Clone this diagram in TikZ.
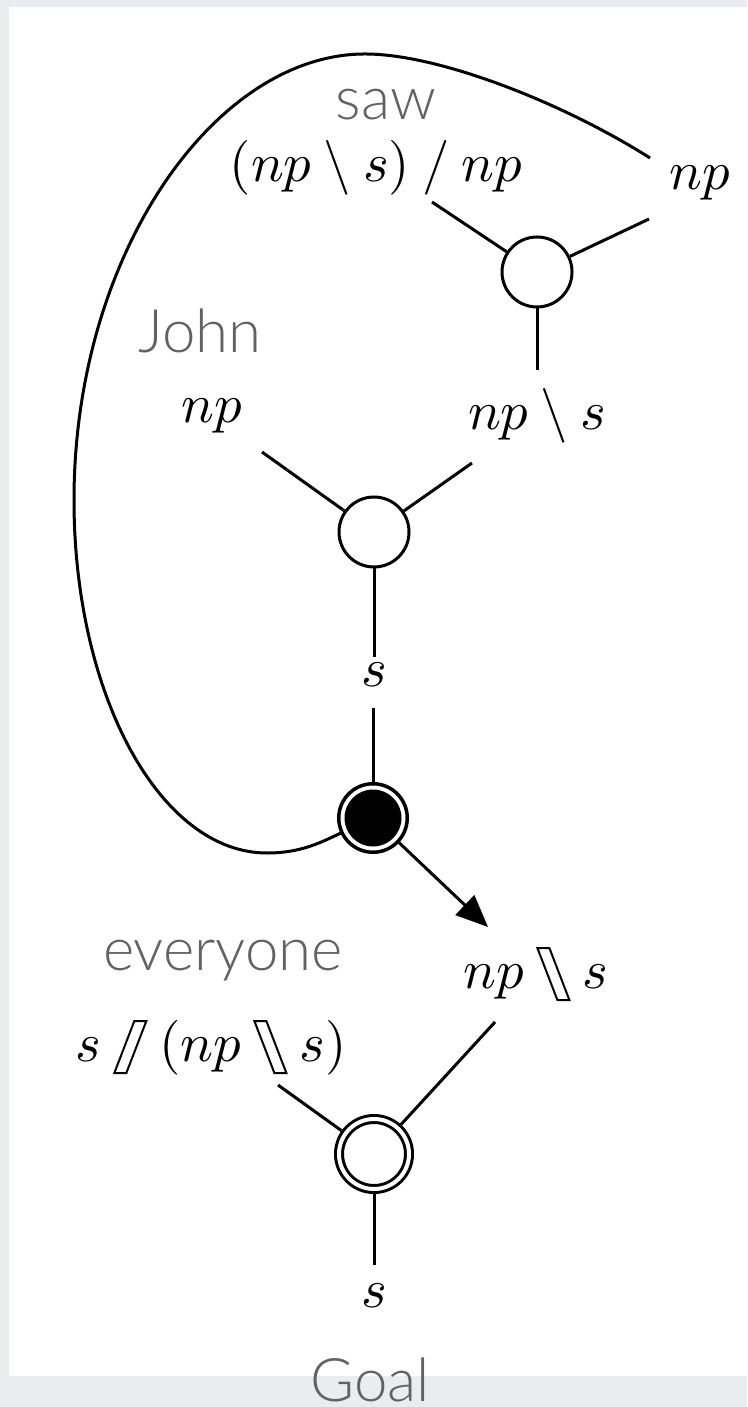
\documentclass[tikz,border=0pt]{standalone}
\usepackage{fontspec}
\usetikzlibrary{arrows.meta}
\IfFontExistsTF{Lato Light}{\newfontfamily\labfont{Lato Light}}{\newfontfamily\labfont{Lato}}
\definecolor{bggray}{HTML}{EBECEF}
\definecolor{labgray}{HTML}{626262}
\newcommand\hbsl{\mathbin{\tikz[baseline=0pt]\draw[line width=0.4pt,line join=miter] (0pt,8pt) -- (2.4pt,8pt) -- (6.4pt,-2.4pt) -- (4pt,-2.4pt) -- cycle;}}
\newcommand\hsl{\mathbin{\tikz[baseline=0pt]\draw[line width=0.4pt,line join=miter] (4pt,8pt) -- (6.4pt,8pt) -- (2.4pt,-2.4pt) -- (0pt,-2.4pt) -- cycle;}}
\tikzset{
  conn/.style={line width=0.6pt},
  hollow/.style={circle, draw, line width=0.6pt, minimum size=14pt, inner sep=0pt, fill=white},
  blacknode/.style={circle, draw, line width=0.7pt, minimum size=13.7pt, inner sep=0pt, fill=white,
    path picture={\fill[black] (path picture bounding box.center) circle (5.7pt);}},
  goalnode/.style={circle, draw, line width=0.6pt, double=white, double distance=0.8pt,
    minimum size=14pt, inner sep=0pt, outer sep=1pt},
  typ/.style={inner sep=0pt, anchor=base, font=\fontsize{10.8}{13}\selectfont},
  word/.style={font=\labfont\fontsize{12}{14}\selectfont, text=labgray, inner sep=0pt, anchor=base},
}
\begin{document}
\begin{tikzpicture}[x=0.2pt,y=-0.2pt]
\fill[bggray] (0,0) rectangle (747,1407);
\fill[white] (9,7) rectangle (747,1376);
\useasboundingbox (0,0) rectangle (747,1407);

\node[hollow] (A) at (537,272) {};
\node[hollow] (B) at (374,532) {};
\node[blacknode] (C) at (373,818) {};
\node[goalnode] (D) at (374,1154) {};

\node[typ] (tsaw) at (376,182) {$(np \mathbin{\backslash} s) \mathbin{/} np$};
\node[typ] (tnpR) at (700,190) {$np$};
\node[typ] (tA3) at (537,430) {$np \mathbin{\backslash} s$};
\node[typ] (tnpJ) at (212,423) {$np$};
\node[typ] (ts1) at (374,687) {$s$};
\node[typ] (tD1) at (536,988) {$np \hbsl s$};
\node[typ] (tevery) at (211,1061) {$s \hsl (np \hbsl s)$};
\node[typ] (ts2) at (374,1307) {$s$};

\node[word] (wsaw) at (386,120) {saw};
\node[word] (wjohn) at (200,353) {John};
\node[word] (wevery) at (223,970) {everyone};
\node[word] (wgoal) at (370,1401) {Goal};

\coordinate (a1) at (432,202);
\coordinate (a2) at (649,219);
\coordinate (a3) at (537,370);
\coordinate (b1) at (262,452);
\coordinate (b2) at (472,463);
\coordinate (b3) at (374,657);
\coordinate (c1) at (373,708);
\coordinate (arc0) at (650,158);
\coordinate (tip) at (488,927);
\coordinate (d1) at (495,1022);
\coordinate (d2) at (278,1085);
\coordinate (d3) at (374,1265);

\draw[conn] (a1) -- (A);
\draw[conn] (a2) -- (A);
\draw[conn] (a3) -- (A);
\draw[conn] (b1) -- (B);
\draw[conn] (b2) -- (B);
\draw[conn] (b3) -- (B);
\draw[conn] (c1) -- (C);
\draw[conn] (arc0) .. controls (565,104) and (440,54) .. (365,54)
  .. controls (215,54) and (74,254) .. (74,500)
  .. controls (74,695) and (160,853) .. (267,853)
  .. controls (300,853) and (320,843) .. (C.205);
\draw[conn, -{Triangle[length=6.4pt,width=5.4pt]}] (C) -- (tip);
\draw[conn] (d1) -- (D);
\draw[conn] (d2) -- (D);
\draw[conn] (d3) -- (D);
\end{tikzpicture}
\end{document}
